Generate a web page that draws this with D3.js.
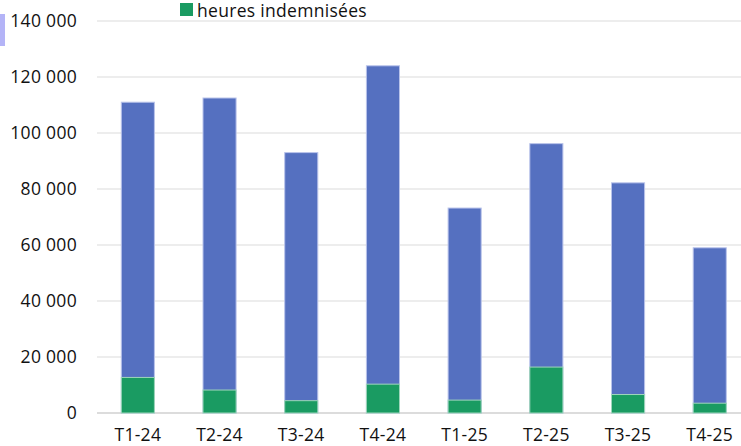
<!DOCTYPE html>
<html><head><meta charset="utf-8">
<script src="https://cdn.jsdelivr.net/npm/d3@7"></script>
<style>body{margin:0;background:#fff}svg{display:block}text{font-family:"Open Sans",sans-serif;letter-spacing:0.3px}</style>
</head><body><svg id="c" width="741" height="446"></svg>
<script>
const categories = ["T1-24","T2-24","T3-24","T4-24","T1-25","T2-25","T3-25","T4-25"];
const totalHours = [111000,112500,93000,124000,73200,96200,82200,59000];
const paidHours = [12700,8200,4400,10300,4600,16400,6600,3500];
const yTicks = [0,20000,40000,60000,80000,100000,120000,140000];
const legendLabel = "heures indemnisées";

const svg = d3.select("#c");
const x = d3.scaleBand().domain(categories).range([97, 750.6]).paddingInner(0.595).paddingOuter(0.2975);
const y = d3.scaleLinear().domain([0,140000]).range([413,21]);
const fmt = v => d3.format(",")(v).replace(/,/g," ");

// grid
svg.append("g").selectAll("line").data(yTicks).join("line")
  .attr("x1",97).attr("x2",741).attr("y1",d=>y(d)).attr("y2",d=>y(d))
  .attr("stroke",d=>d===0?"#d0d0d0":"#dcdcdc").attr("stroke-width",d=>d===0?1.5:1.2);

// y labels
svg.append("g").selectAll("text").data(yTicks).join("text")
  .attr("x",77).attr("y",d=>y(d)+6).attr("text-anchor","end")
  .attr("font-size",17.5).attr("fill","#111").text(fmt);

// bars
svg.append("g").selectAll("rect").data(categories).join("rect")
  .attr("x",d=>x(d)).attr("width",x.bandwidth())
  .attr("y",(d,i)=>y(totalHours[i])).attr("height",(d,i)=>y(0)-y(totalHours[i]))
  .attr("fill","#5570c0").attr("stroke","#b9c3ea").attr("stroke-width",1);
svg.append("g").selectAll("rect").data(categories).join("rect")
  .attr("x",d=>x(d)).attr("width",x.bandwidth())
  .attr("y",(d,i)=>y(paidHours[i])).attr("height",(d,i)=>y(0)-y(paidHours[i]))
  .attr("fill","#1a9b62").attr("stroke","#9fd6bb").attr("stroke-width",1);

// x labels
svg.append("g").selectAll("text").data(categories).join("text")
  .attr("x",d=>x(d)+x.bandwidth()/2).attr("y",441).attr("text-anchor","middle")
  .attr("font-size",17.5).attr("fill","#111").text(d=>d);

// legend
svg.append("rect").attr("x",180).attr("y",3).attr("width",13).attr("height",13).attr("fill","#1a9b62");
svg.append("text").attr("x",197).attr("y",17).attr("font-size",17.5).attr("fill","#111").text(legendLabel);

// left accent
svg.append("rect").attr("x",0).attr("y",14).attr("width",5).attr("height",32).attr("fill","#b4b4f7");
</script></body></html>
